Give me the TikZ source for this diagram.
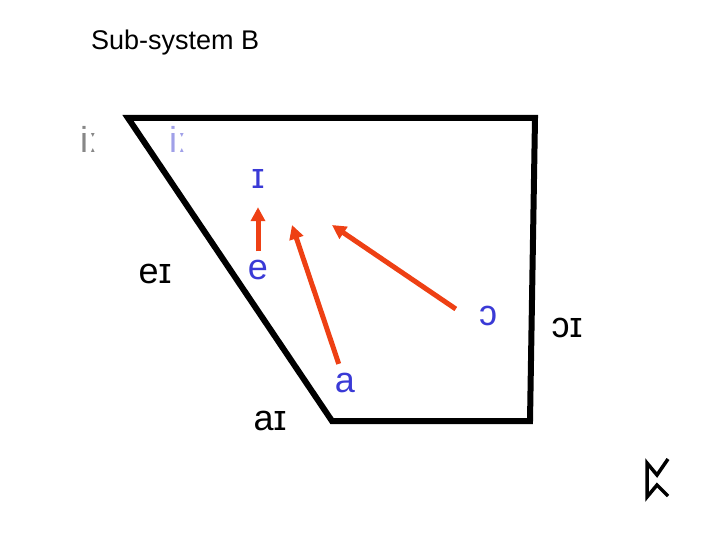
\documentclass[tikz,border=0pt]{standalone}
\usepackage{fontspec}
\setmainfont{Liberation Sans}
\usepackage{color}
\definecolor{vowelblue}{RGB}{58,58,214}
\definecolor{paleblue}{RGB}{160,160,232}
\definecolor{shiftred}{RGB}{238,64,20}
\definecolor{fadegrey}{RGB}{135,135,135}
\usepackage{tikz}
\usetikzlibrary{arrows.meta,positioning,calc}
\tikzstyle{vowel}=[inner sep=0pt,anchor=base,font=\fontsize{36}{40}\selectfont]
\tikzstyle{monophth}=[vowel,text=vowelblue]
\tikzstyle{shiftarrow}=[draw=shiftred,line width=5pt,-{Triangle[length=14pt,width=14pt]}]
\tikzstyle{frame}=[draw,line width=6pt]

\begin{document}
\begin{tikzpicture}[x=1pt,y=-1pt]
\useasboundingbox (0,0) rectangle (720,540);
\node [inner sep=0pt,anchor=base west,font=\fontsize{27}{32}\selectfont] (title) at (91,50) {Sub-system B};
% the vowel space
\draw [frame] (128,118) -- (535,118) -- (530,421) -- (332,421) -- cycle;
\node [vowel,text=fadegrey] (iiGrey) at (89,153) {iː};
\node [vowel,text=paleblue] (iiBlue) at (178,153) {iː};
\node [monophth] (ih) at (258,189) {ɪ};
\node [monophth] (e) at (258,279) {e};
\node [monophth] (oh) at (488,325) {ɔ};
\node [monophth] (a) at (345,392) {a};
\node [vowel] (ei) at (155,283) {eɪ};
\node [vowel] (ohi) at (567,337) {ɔɪ};
\node [vowel] (ai) at (270,430) {aɪ};
% rune mark, no font has it
\draw [line width=3.5pt] (668,459) -- (657,475) -- (647,463) -- (647,497) -- (657,485) -- (668,496);
% the shifts
\coordinate (aTip) at (292,225);
\coordinate (ohTip) at (332,225);
\draw [shiftarrow,shorten <=8pt,shorten >=18pt] (e) -- (ih);
\draw [shiftarrow,shorten <=9pt] (a) -- (aTip);
\draw [shiftarrow] ([shift={(-23pt,6.5pt)}]oh.west) -- (ohTip);
\end{tikzpicture}
\end{document}
